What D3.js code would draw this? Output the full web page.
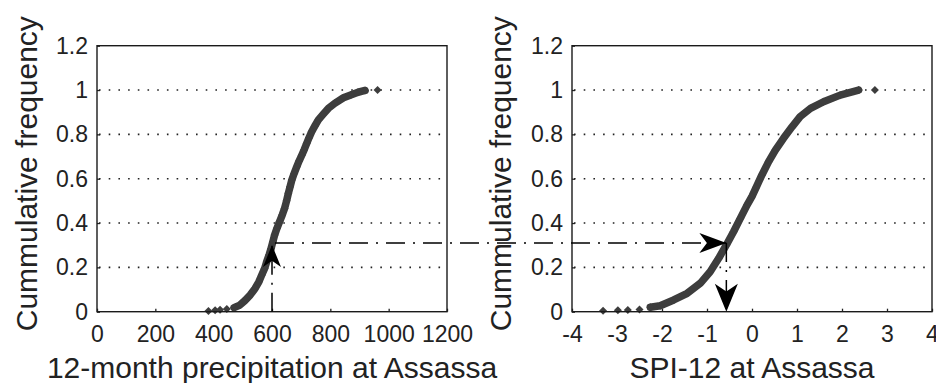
<!doctype html>
<html>
<head>
<meta charset="UTF-8">
<title>Cumulative frequency - Assassa</title>
<script src="https://d3js.org/d3.v7.min.js"></script>
<style>
  body { margin: 0; background: #fff; }
  text { font-family: "Liberation Sans", Arial, sans-serif; fill: #222; }
</style>
</head>
<body>
<svg id="chart" width="936" height="383"></svg>
<script>
// ---- data ----
// left panel: 12-month precipitation (mm) vs cumulative frequency
var precipLowX = [382, 405, 422, 445];
var precipLowF = [0.003, 0.006, 0.009, 0.012];
var precipX = [470, 490, 507, 525, 542, 555, 565, 575, 582, 590, 597, 603, 609, 617, 626, 635, 643, 650,
               656, 662, 668, 676, 685, 693, 702, 710, 719, 727, 736, 747, 759, 775, 793, 815, 845, 870, 895, 919];
var precipF = [0.018, 0.03, 0.05, 0.075, 0.105, 0.135, 0.166, 0.196, 0.226, 0.256, 0.286, 0.316, 0.346, 0.376,
               0.406, 0.436, 0.466, 0.5, 0.534, 0.564, 0.594, 0.624, 0.654, 0.68, 0.706, 0.73, 0.759, 0.785,
               0.812, 0.838, 0.865, 0.89, 0.917, 0.94, 0.965, 0.978, 0.99, 0.998];
var precipHighX = [962];
var precipHighF = [1.0];

// right panel: SPI-12 vs cumulative frequency
var spiLowX = [-3.31, -2.98, -2.76, -2.5];
var spiLowF = [0.004, 0.006, 0.008, 0.01];
var spiX = [-2.26, -2.04, -1.74, -1.44, -1.15, -0.93, -0.74, -0.57, -0.41, -0.26, -0.11, 0.0, 0.09, 0.22,
            0.37, 0.52, 0.7, 0.89, 1.07, 1.3, 1.59, 1.96, 2.37];
var spiF = [0.02, 0.027, 0.053, 0.083, 0.128, 0.18, 0.241, 0.301, 0.361, 0.421, 0.481, 0.52, 0.56, 0.617,
            0.677, 0.729, 0.782, 0.834, 0.88, 0.917, 0.947, 0.977, 1.0];
var spiHighX = [2.73];
var spiHighF = [1.0];

// reading guide: precipitation 600 -> frequency 0.31 -> SPI -0.57
var guidePrecip = 600;
var guideFreq = 0.31;
var guideSpi = -0.57;

// ticks
var precipTicks = [0, 200, 400, 600, 800, 1000, 1200];
var precipTickLabels = ["0", "200", "400", "600", "800", "1000", "1200"];
var spiTicks = [-4, -3, -2, -1, 0, 1, 2, 3, 4];
var spiTickLabels = ["-4", "-3", "-2", "-1", "0", "1", "2", "3", "4"];
var freqTicks = [0, 0.2, 0.4, 0.6, 0.8, 1, 1.2];
var freqTickLabels = ["0", "0.2", "0.4", "0.6", "0.8", "1", "1.2"];
var gridTicks = [0.2, 0.4, 0.6, 0.8, 1];

var svg = d3.select("#chart");
var plotTop = 45.7, plotBottom = 311.7;
var y = d3.scaleLinear().domain([0, 1.2]).range([plotBottom, plotTop]);
var xL = d3.scaleLinear().domain([0, 1200]).range([97, 447]);
var xR = d3.scaleLinear().domain([-4, 4]).range([572, 932]);

var curveColor = "#3d3d3d";
var diamond = d3.symbol().type(d3.symbolSquare).size(32);

function panel(x, ticks, tickLabels, title, ylabX, lowX, lowF, runX, runF, highX, highF) {
    var g = svg.append("g");
    var x0 = x.range()[0], x1 = x.range()[1];

    // dotted grid
    g.selectAll(".grid").data(gridTicks).enter().append("line")
        .attr("x1", x0 + 2).attr("x2", x1)
        .attr("y1", function(d) { return y(d); })
        .attr("y2", function(d) { return y(d); })
        .attr("stroke", "#222").attr("stroke-width", 1.6)
        .attr("stroke-dasharray", "1.6,8.1");

    // axes, ticks inward
    var xa = g.append("g").attr("transform", "translate(0," + plotBottom + ")")
        .call(d3.axisBottom(x).tickValues(ticks).tickSize(-3).tickPadding(14)
            .tickFormat(function(d, i) { return tickLabels[i]; }));
    var ya = g.append("g").attr("transform", "translate(" + x0 + ",0)")
        .call(d3.axisLeft(y).tickValues(freqTicks).tickSize(-3).tickPadding(9)
            .tickFormat(function(d, i) { return freqTickLabels[i]; }));
    [xa, ya].forEach(function(a) {
        a.select(".domain").remove();
        a.selectAll("line").attr("stroke", "#222").attr("stroke-width", 1.3);
        a.selectAll("text").attr("font-size", 23).attr("fill", "#222");
    });

    // points
    var line = d3.line().x(function(d) { return x(d[0]); }).y(function(d) { return y(d[1]); });
    var run = runX.map(function(v, i) { return [v, runF[i]]; });
    g.append("path").datum(run).attr("d", line)
        .attr("fill", "none").attr("stroke", curveColor)
        .attr("stroke-width", 7.5).attr("stroke-linejoin", "round").attr("stroke-linecap", "round");
    var pts = lowX.map(function(v, i) { return [v, lowF[i]]; })
        .concat(run)
        .concat(highX.map(function(v, i) { return [v, highF[i]]; }));
    g.selectAll(".pt").data(pts).enter().append("path")
        .attr("d", diamond)
        .attr("transform", function(d) { return "translate(" + x(d[0]) + "," + y(d[1]) + ") rotate(45)"; })
        .attr("fill", curveColor);

    // frame
    g.append("rect").attr("x", x0).attr("y", plotTop)
        .attr("width", x1 - x0).attr("height", plotBottom - plotTop)
        .attr("fill", "none").attr("stroke", "#1a1a1a").attr("stroke-width", 1.4);

    // titles
    g.append("text").attr("x", (x0 + x1) / 2).attr("y", 378)
        .attr("text-anchor", "middle").attr("font-size", 30).text(title);
    g.append("text").attr("transform", "translate(" + ylabX + "," + ((plotTop + plotBottom) / 2 - 5) + ") rotate(-90)")
        .attr("text-anchor", "middle").attr("font-size", 30).text("Cummulative frequency");
}

panel(xL, precipTicks, precipTickLabels, "12-month precipitation at Assassa", 37,
      precipLowX, precipLowF, precipX, precipF, precipHighX, precipHighF);
panel(xR, spiTicks, spiTickLabels, "SPI-12 at Assassa", 511,
      spiLowX, spiLowF, spiX, spiF, spiHighX, spiHighF);

// reading guide arrows
function head(L, W) {
    return "M0,0 L" + (-L) + "," + (-W) + " L" + (-L * 0.72) + ",0 L" + (-L) + "," + W + "Z";
}
var dash = "19,8,2,8";
var gy = y(guideFreq);
var ax = xL(guidePrecip), bx = xR(guideSpi);

svg.append("line").attr("x1", ax).attr("x2", ax).attr("y1", y(0)).attr("y2", gy + 3)
    .attr("stroke", "#000").attr("stroke-width", 1.5).attr("stroke-dasharray", dash);
svg.append("path").attr("d", head(22, 9))
    .attr("transform", "translate(" + ax + "," + (gy + 2) + ") rotate(-90)").attr("fill", "#000");

svg.append("line").attr("x1", ax + 3).attr("x2", bx).attr("y1", gy).attr("y2", gy)
    .attr("stroke", "#000").attr("stroke-width", 1.5).attr("stroke-dasharray", dash);
svg.append("path").attr("d", head(27, 10))
    .attr("transform", "translate(" + bx + "," + gy + ")").attr("fill", "#000");

svg.append("line").attr("x1", bx).attr("x2", bx).attr("y1", gy).attr("y2", y(0))
    .attr("stroke", "#000").attr("stroke-width", 1.5).attr("stroke-dasharray", dash);
svg.append("path").attr("d", head(28, 11.5))
    .attr("transform", "translate(" + bx + "," + y(0) + ") rotate(90)").attr("fill", "#000");
</script>
</body>
</html>
